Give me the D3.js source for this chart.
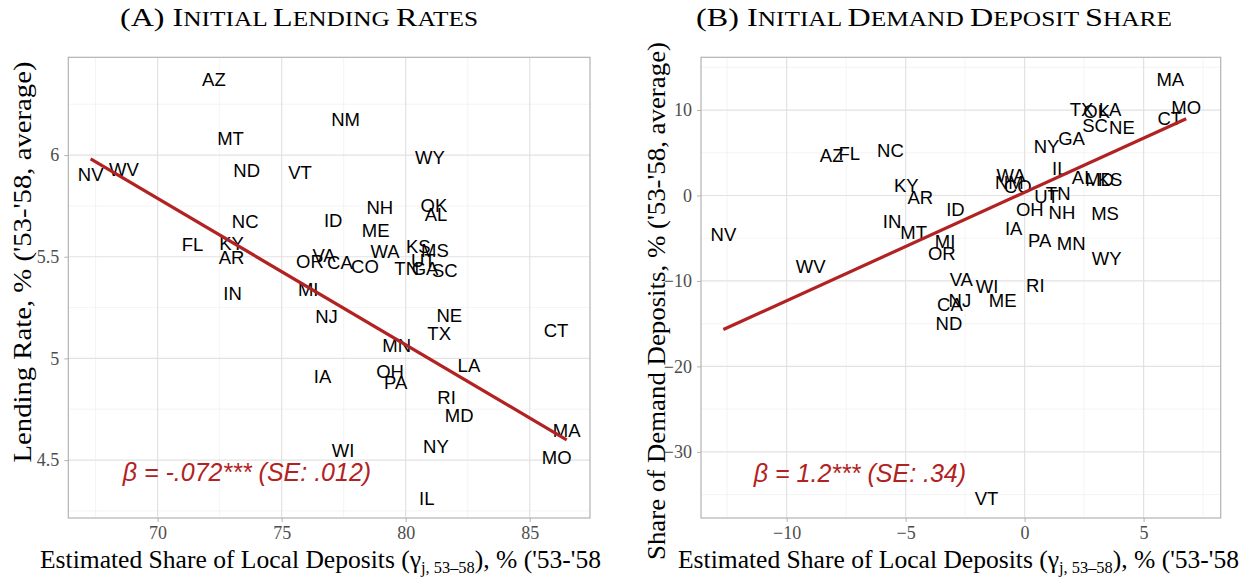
<!DOCTYPE html>
<html>
<head>
<meta charset="utf-8">
<script src="https://cdn.jsdelivr.net/npm/d3@7"></script>
<style>
  body { margin: 0; background: #fff; }
  svg { display: block; }
  .tick-label { font-family: "Liberation Serif", serif; font-size: 18px; fill: #4d4d4d; }
  .axis-title { font-family: "Liberation Serif", serif; font-size: 25px; fill: #000; }
  .panel-title { font-family: "Liberation Serif", serif; font-size: 26px; fill: #000; }
  .state { font-family: "Liberation Sans", Arial, sans-serif; font-size: 18.5px; fill: #000; }
  .beta { font-family: "Liberation Sans", Arial, sans-serif; font-size: 25px; font-style: italic; fill: #b22222; }
</style>
</head>
<body>
<div id="chart"></div>
<script>
// Panel A: lending rates
const statesA = ["AZ","MT","NV","WV","ND","VT","NC","FL","KY","AR","ID","NM","WY","NH","OK","AL","ME",
  "VA","OR","CA","CO","WA","KS","MS","UT","TN","GA","SC","MI","IN","NJ","IA","WI","NE","TX","CT",
  "MN","LA","OH","PA","RI","MD","MA","NY","MO","IL"];
const shareA = [72.27,72.94,67.30,68.64,73.59,75.74,73.53,71.41,72.98,72.98,77.08,77.58,80.98,78.96,81.14,81.22,78.79,
  76.71,76.14,77.35,78.36,79.17,80.51,81.18,80.71,80.04,80.78,81.58,76.07,73.02,76.81,76.65,77.48,81.76,81.35,86.06,
  79.64,82.55,79.37,79.60,81.65,82.16,86.49,81.22,86.09,80.85];
const rateA = [6.374,6.082,5.906,5.930,5.926,5.913,5.672,5.561,5.565,5.495,5.677,6.176,5.989,5.741,5.754,5.710,5.631,
  5.508,5.475,5.470,5.450,5.528,5.552,5.532,5.483,5.442,5.442,5.434,5.341,5.319,5.204,4.912,4.548,5.209,5.123,5.139,
  5.065,4.967,4.938,4.881,4.808,4.720,4.647,4.568,4.515,4.311];
const fitA = [10.827, -0.072]; // intercept, slope
const xTicksA = [70, 75, 80, 85];
const yTicksA = [4.5, 5, 5.5, 6];

// Panel B: demand deposit share
const statesB = ["AZ","FL","NC","KY","AR","ID","NV","IN","MT","MI","OR","WV","NJ","CA","ND","VT","MA","MO","CT",
  "TX","OK","LA","SC","NE","GA","NY","IL","WA","NM","CO","AL","MD","KS","UT","TN","OH","NH","MS","IA","PA",
  "MN","WY","VA","WI","RI","ME"];
const shareB = [-8.11,-7.37,-5.64,-4.97,-4.38,-2.91,-12.66,-5.57,-4.66,-3.34,-3.48,-8.99,-2.72,-3.14,-3.18,-1.60,6.12,6.79,6.10,
  2.39,3.03,3.59,2.96,4.09,1.97,0.92,1.48,-0.57,-0.64,-0.29,2.46,3.15,3.59,0.92,1.41,0.22,1.57,3.38,-0.46,0.63,
  1.96,3.45,-2.66,-1.58,0.45,-0.92];
const demandB = [4.65,4.88,5.27,1.14,-0.19,-1.67,-4.57,-3.04,-4.33,-5.39,-6.83,-8.31,-12.31,-12.79,-14.94,-35.43,13.63,10.24,9.06,
  10.03,9.83,10.03,8.16,7.96,6.72,5.74,3.21,2.31,1.53,1.06,2.14,1.84,1.84,-0.12,0.28,-1.67,-1.98,-2.05,-3.82,-5.27,
  -5.58,-7.34,-9.83,-10.68,-10.49,-12.31];
const fitB = [0.37, 1.268];
const xTicksB = [-10, -5, 0, 5];
const yTicksB = [-30, -20, -10, 0, 10];

const W = 1245, H = 577;
const svg = d3.select("#chart").append("svg").attr("width", W).attr("height", H);

// small caps by hand: capitals at full size, the rest upper-cased and smaller
function smallCaps(textSel, str) {
  const parts = str.match(/[A-Z(]+|[^A-Z(]+/g);
  parts.forEach(p => {
    const lower = /^[a-z]/.test(p);
    textSel.append("tspan")
      .attr("font-size", lower ? "20.5px" : null)
      .text(lower ? p.toUpperCase() : p);
  });
}

function drawPanel(cfg) {
  const g = svg.append("g");
  const x = d3.scaleLinear().domain(cfg.xDomain).range([cfg.left, cfg.right]);
  const y = d3.scaleLinear().domain(cfg.yDomain).range([cfg.bottom, cfg.top]);

  // minor grid at midpoints between major ticks
  const xStep = cfg.xTicks[1] - cfg.xTicks[0];
  const yStep = cfg.yTicks[1] - cfg.yTicks[0];
  const minor = (dom, step, ticks) => d3.range(ticks[0] - step * 10 + step / 2, ticks[ticks.length - 1] + step * 10, step)
    .filter(v => v > dom[0] && v < dom[1]);
  const xMinor = minor(cfg.xDomain, xStep, cfg.xTicks);
  const yMinor = minor(cfg.yDomain, yStep, cfg.yTicks);

  g.selectAll(".xminor").data(xMinor).enter().append("line")
    .attr("x1", d => x(d)).attr("x2", d => x(d)).attr("y1", cfg.top).attr("y2", cfg.bottom)
    .attr("stroke", "#efefef").attr("stroke-width", 0.7);
  g.selectAll(".yminor").data(yMinor).enter().append("line")
    .attr("y1", d => y(d)).attr("y2", d => y(d)).attr("x1", cfg.left).attr("x2", cfg.right)
    .attr("stroke", "#efefef").attr("stroke-width", 0.7);
  g.selectAll(".xmajor").data(cfg.xTicks).enter().append("line")
    .attr("x1", d => x(d)).attr("x2", d => x(d)).attr("y1", cfg.top).attr("y2", cfg.bottom)
    .attr("stroke", "#e2e2e2").attr("stroke-width", 1.2);
  g.selectAll(".ymajor").data(cfg.yTicks).enter().append("line")
    .attr("y1", d => y(d)).attr("y2", d => y(d)).attr("x1", cfg.left).attr("x2", cfg.right)
    .attr("stroke", "#e2e2e2").attr("stroke-width", 1.2);

  // border
  g.append("rect").attr("x", cfg.left).attr("y", cfg.top)
    .attr("width", cfg.right - cfg.left).attr("height", cfg.bottom - cfg.top)
    .attr("fill", "none").attr("stroke", "#b3b3b3").attr("stroke-width", 1.2);

  // axes
  const xAxis = g.append("g").attr("transform", `translate(0,${cfg.bottom})`)
    .call(d3.axisBottom(x).tickValues(cfg.xTicks).tickSize(4).tickPadding(4).tickFormat(d3.format("")));
  const yAxis = g.append("g").attr("transform", `translate(${cfg.left},0)`)
    .call(d3.axisLeft(y).tickValues(cfg.yTicks).tickSize(4).tickPadding(5).tickFormat(d3.format("")));
  [xAxis, yAxis].forEach(a => {
    a.select(".domain").remove();
    a.selectAll(".tick line").attr("stroke", "#b3b3b3");
    a.selectAll(".tick text").attr("class", "tick-label").attr("font-family", null).attr("font-size", null).attr("fill", null);
  });

  // state labels
  g.selectAll(".state").data(cfg.states).enter().append("text")
    .attr("class", "state")
    .attr("x", (d, i) => x(cfg.xs[i]))
    .attr("y", (d, i) => y(cfg.ys[i]))
    .attr("text-anchor", "middle")
    .attr("dominant-baseline", "central")
    .text(d => d);

  // fitted line over data range
  const ext = d3.extent(cfg.xs);
  g.append("line")
    .attr("x1", x(ext[0])).attr("y1", y(cfg.fit[0] + cfg.fit[1] * ext[0]))
    .attr("x2", x(ext[1])).attr("y2", y(cfg.fit[0] + cfg.fit[1] * ext[1]))
    .attr("stroke", "#b22222").attr("stroke-width", 3.2);

  // coefficient note
  g.append("text").attr("class", "beta")
    .attr("x", x(cfg.betaPos[0])).attr("y", y(cfg.betaPos[1]))
    .attr("text-anchor", "middle").attr("dominant-baseline", "central")
    .text(cfg.beta);

  // titles
  const t = g.append("text").attr("class", "panel-title")
    .attr("x", cfg.titleX).attr("y", 26).attr("text-anchor", "middle")
    .attr("textLength", cfg.titleW).attr("lengthAdjust", "spacingAndGlyphs");
  smallCaps(t, cfg.title);

  const xl = g.append("text").attr("class", "axis-title")
    .attr("x", cfg.xLabelX).attr("y", 568)
    .attr("textLength", 561).attr("lengthAdjust", "spacingAndGlyphs");
  xl.append("tspan").text("Estimated Share of Local Deposits (γ");
  xl.append("tspan").attr("font-size", "16px").attr("dy", 5).text("j, 53–58");
  xl.append("tspan").attr("dy", -5).text("), % ('53-'58");

  g.append("text").attr("class", "axis-title")
    .attr("transform", `translate(${cfg.yLabelX},${cfg.yLabelY}) rotate(-90)`)
    .attr("text-anchor", "middle")
    .attr("textLength", cfg.yLabelW).attr("lengthAdjust", "spacingAndGlyphs")
    .text(cfg.yLabel);
}

drawPanel({
  states: statesA, xs: shareA, ys: rateA, fit: fitA,
  xTicks: xTicksA, yTicks: yTicksA,
  xDomain: [66.4, 87.43], yDomain: [4.215, 6.481],
  left: 68.3, right: 590, top: 57.3, bottom: 518,
  beta: "β = -.072*** (SE: .012)", betaPos: [73.6, 4.44],
  title: "(A) Initial Lending Rates", titleX: 299, titleW: 358,
  xLabelX: 40, yLabel: "Lending Rate, % ('53-'58, average)", yLabelX: 31, yLabelY: 262, yLabelW: 401
});

drawPanel({
  states: statesB, xs: shareB, ys: demandB, fit: fitB,
  xTicks: xTicksB, yTicks: yTicksB,
  xDomain: [-13.6, 8.24], yDomain: [-37.74, 16.17],
  left: 701, right: 1220.7, top: 57.3, bottom: 518,
  beta: "β = 1.2*** (SE: .34)", betaPos: [-6.92, -32.47],
  title: "(B) Initial Demand Deposit Share", titleX: 934, titleW: 476,
  xLabelX: 678, yLabel: "Share of Demand Deposits, % ('53-'58, average)", yLabelX: 665, yLabelY: 301, yLabelW: 518
});
</script>
</body>
</html>
